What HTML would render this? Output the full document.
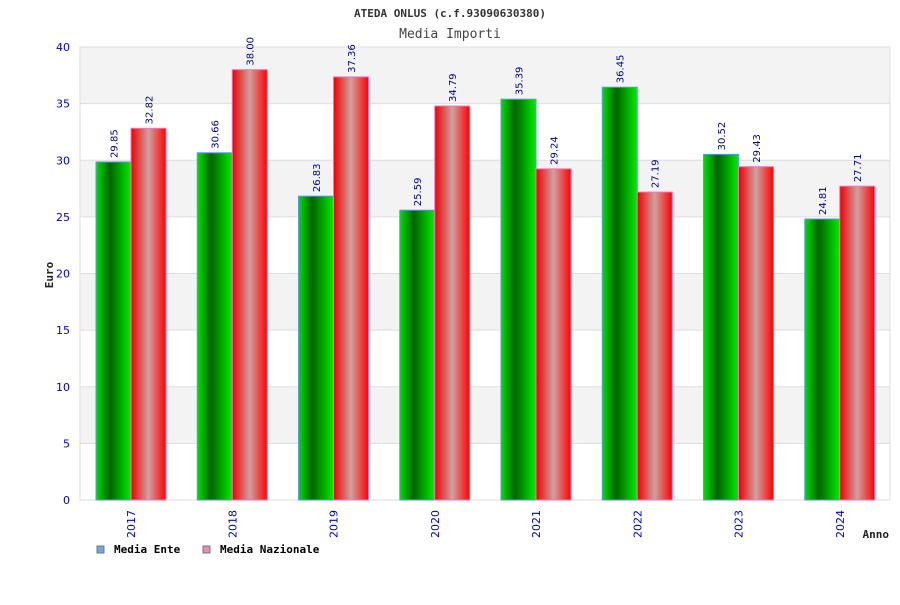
<!DOCTYPE html>
<html><head><meta charset="utf-8"><style>
body{margin:0;background:#fff;width:900px;height:600px;overflow:hidden}
svg text{font-family:"DejaVu Sans Mono","Liberation Mono",monospace}
svg text.sans{font-family:"DejaVu Sans","Liberation Sans",sans-serif}
</style></head><body>
<svg id="c" width="900" height="600">
<defs>
<linearGradient id="gG" x1="0" x2="1"><stop offset="0" stop-color="#00e000"/><stop offset="0.4" stop-color="#006400"/><stop offset="1" stop-color="#00ee00"/></linearGradient>
<linearGradient id="gR" x1="0" x2="1"><stop offset="0" stop-color="#ee0000"/><stop offset="0.5" stop-color="#d0a0a0"/><stop offset="1" stop-color="#ff0000"/></linearGradient>
</defs>
<text x="450" y="17" text-anchor="middle" font-size="11" font-weight="bold" fill="#333">ATEDA ONLUS (c.f.93090630380)</text>
<text x="450" y="38" text-anchor="middle" font-size="13" fill="#444">Media Importi</text>
<g id="plot"></g>
<text transform="translate(53,275) rotate(-90)" text-anchor="middle" font-size="11" font-weight="bold" fill="#222">Euro</text>
<text x="889" y="538" text-anchor="end" font-size="11" font-weight="bold" fill="#222">Anno</text>
<g>
<rect x="97" y="546" width="7" height="7" fill="#6aa8e8" stroke="#777"/>
<text x="114" y="553" font-size="11" font-weight="bold" fill="#000">Media Ente</text>
<rect x="203" y="546" width="7" height="7" fill="#ee88bb" stroke="#777"/>
<text x="220" y="553" font-size="11" font-weight="bold" fill="#000">Media Nazionale</text>
</g>
</svg>
<script>
const categories=["2017","2018","2019","2020","2021","2022","2023","2024"];
const enteValues=[29.85,30.66,26.83,25.59,35.39,36.45,30.52,24.81];
const nazValues=[32.82,38.00,37.36,34.79,29.24,27.19,29.43,27.71];
const yTicks=[0,5,10,15,20,25,30,35,40];
const X0=80,X1=890,Y0=500,Y1=47,YMAX=40;
const y=v=>Y0-(v/YMAX)*(Y0-Y1);
const gw=(X1-X0)/categories.length;
const xg=i=>X0+i*gw;
const NS="http://www.w3.org/2000/svg";
const g=document.getElementById('plot');
function mk(t,a,txt){const e=document.createElementNS(NS,t);for(const k in a)e.setAttribute(k,a[k]);if(txt!=null)e.textContent=txt;g.appendChild(e);return e;}
for(let i=0;i<yTicks.length-1;i++){
  const b=mk('rect',{x:X0,y:y(yTicks[i+1]),width:X1-X0,height:y(yTicks[i])-y(yTicks[i+1]),fill:i%2?'#f3f3f3':'#fff'});
  
  
}
yTicks.forEach(t=>{
  const l=mk('line',{x1:X0,x2:X1,y1:y(t),y2:y(t),stroke:'#ddd'});
  
  
  const tx=mk('text',{x:70,y:y(t)+4,'text-anchor':'end','font-size':11,fill:'#00c',class:'sans'},String(t));
  
  
});
const fr=mk('rect',{x:X0,y:Y1,width:X1-X0,height:Y0-Y1,fill:'none',stroke:'#ddd'});


const bw=35;
categories.forEach((c,i)=>{
  const gx=xg(i)+16;
  [[enteValues[i],'url(#gG)','#5a9ae8','bar-ente-'],[nazValues[i],'url(#gR)','#ee77bb','bar-nazionale-']].forEach((s,j)=>{
    const bx=gx+j*bw;
    const r=mk('rect',{x:bx,y:y(s[0]),width:bw,height:Y0-y(s[0]),fill:s[1],stroke:s[2],'stroke-width':1});
    
    
    const lx=bx+bw/2+4,ly=y(s[0])-4;
    const t=mk('text',{x:lx,y:ly,transform:`rotate(-90 ${lx} ${ly})`,'font-size':10,fill:'#000088',class:'sans'},s[0].toFixed(2));
    
    
  });
  const cx=gx+bw+4,cy=510;
  const t=mk('text',{x:cx,y:cy,transform:`rotate(-90 ${cx} ${cy})`,'text-anchor':'end','font-size':11,fill:'#00c',class:'sans'},c);
  
  
});
</script>
</body></html>
